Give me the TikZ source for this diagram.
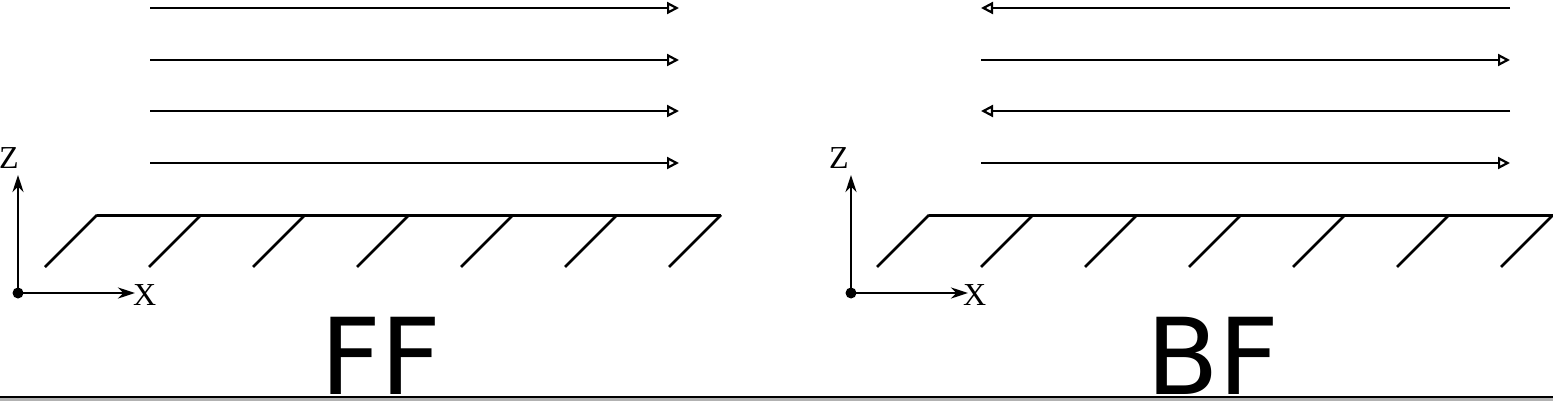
\documentclass[tikz,border=0pt]{standalone}
\usepackage{fontspec}
\newfontfamily\labfont{DejaVu Sans}
\newfontfamily\axfont{Liberation Serif}
\usetikzlibrary{arrows.meta}
\begin{document}
\begin{tikzpicture}[x=1pt,y=-1pt,
  flow/.style={line width=2.6pt,-{Triangle[open,length=12pt,width=12pt,line width=2.2pt]}},
  axis/.style={line width=2.6pt,-{Stealth[length=17pt,width=11pt]}},
  wall/.style={line width=3pt},
  hatch/.style={line width=2.6pt},
  axlab/.style={font=\axfont\fontsize{32}{32}\selectfont,inner sep=0pt,anchor=base west},
  biglab/.style={font=\labfont\fontsize{106}{106}\selectfont,inner sep=0pt,anchor=base}]
\useasboundingbox (0,0) rectangle (1553,401);
\fill[gray!60] (0,398) rectangle (1553,401);
\draw[line width=2pt] (0,396.5) -- (1553,396.5);
% ---------- left panel (FF)
\foreach \yy in {8,60,111,163}{
  \coordinate (fs\yy) at (150,\yy);
  \coordinate (fe\yy) at (679,\yy);
  \draw[flow] (fs\yy) -- (fe\yy);
}
\coordinate (wl) at (97,215);
\coordinate (wr) at (721,215);
\draw[wall] (wl) -- (wr);
\foreach \xx in {97,201,305,409,513,617,721}{
  \draw[hatch] (\xx,215) -- ++(-52,52);
}
\coordinate (o1) at (18,293);
\coordinate (z1) at (18,175);
\coordinate (x1) at (135,293);
\draw[axis] (o1) -- (z1);
\draw[axis] (o1) -- (x1);
\fill (o1) circle (5.5pt);
\node[axlab] (Z1) at (-1,168) {Z};
\node[axlab] (X1) at (133,305) {X};
\node[biglab] (FF) at (381,394.5) {FF};
% ---------- right panel (BF)
\coordinate (bs8) at (1510,8);   \coordinate (be8) at (981,8);
\coordinate (bs60) at (981,60);  \coordinate (be60) at (1510,60);
\coordinate (bs111) at (1510,111); \coordinate (be111) at (981,111);
\coordinate (bs163) at (981,163); \coordinate (be163) at (1510,163);
\foreach \yy in {8,60,111,163}{
  \draw[flow] (bs\yy) -- (be\yy);
}
\coordinate (wl2) at (929,215);
\coordinate (wr2) at (1553,215);
\draw[wall] (wl2) -- (wr2);
\foreach \xx in {929,1033,1137,1241,1345,1449,1553}{
  \draw[hatch] (\xx,215) -- ++(-52,52);
}
\coordinate (o2) at (851,293);
\coordinate (z2) at (851,175);
\coordinate (x2) at (968,293);
\draw[axis] (o2) -- (z2);
\draw[axis] (o2) -- (x2);
\fill (o2) circle (5.5pt);
\node[axlab] (Z2) at (829,168) {Z};
\node[axlab] (X2) at (963,305) {X};
\node[biglab] (BF) at (1213,394.5) {BF};
\end{tikzpicture}
\end{document}
